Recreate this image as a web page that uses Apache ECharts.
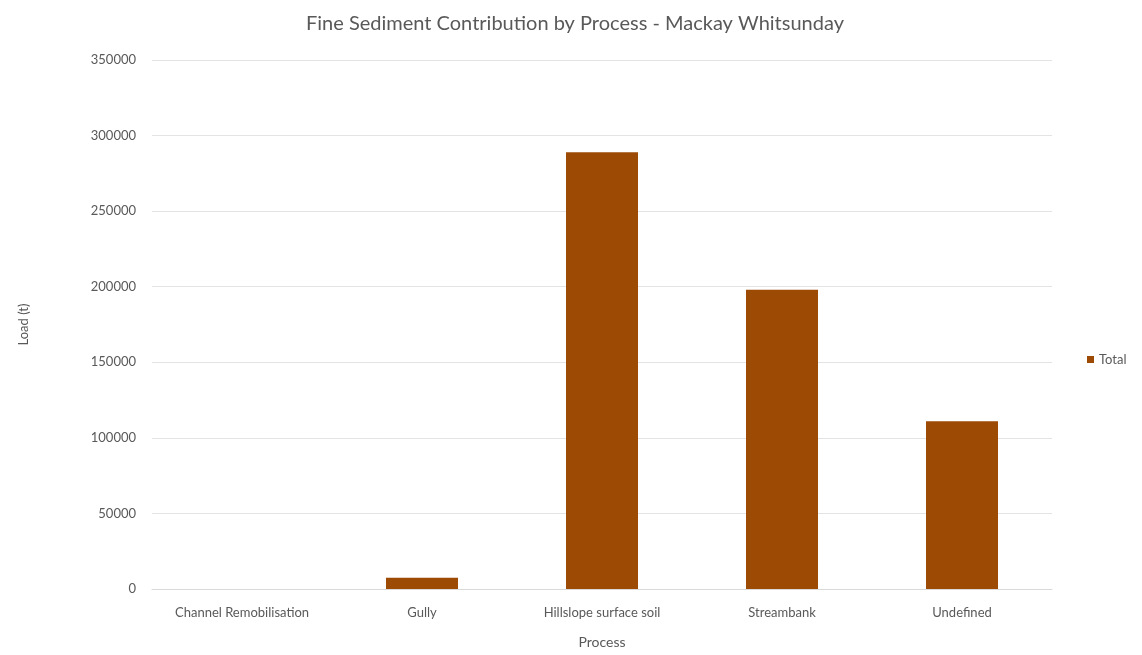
<!DOCTYPE html>
<html><head><meta charset="utf-8">
<script src="https://cdn.jsdelivr.net/npm/echarts@6/dist/echarts.min.js"></script>
<style>html,body{margin:0;padding:0;background:#fff}#c{width:1142px;height:655px}</style>
</head><body><div id="c"></div>
<script>
const categories = ["Channel Remobilisation", "Gully", "Hillslope surface soil", "Streambank", "Undefined"];
const totals = [0, 7500, 289000, 198000, 111000];
const yTicks = { min: 0, max: 350000, interval: 50000 };

const chart = echarts.init(document.getElementById('c'));
const font = 'Lato, "Open Sans", sans-serif';
chart.setOption({
  animation: false,
  backgroundColor: '#fff',
  title: {
    text: 'Fine Sediment Contribution by Process - Mackay Whitsunday',
    left: 570, top: 9, textAlign: 'center',
    textStyle: { fontFamily: font, fontSize: 20, fontWeight: 'normal', color: '#595959' }
  },
  legend: {
    data: [{ name: 'Total', icon: 'rect' }], orient: 'vertical', left: 1082, top: 348,
    itemWidth: 7, itemHeight: 7, itemGap: 4,
    textStyle: { fontFamily: font, fontSize: 13, color: '#595959' }
  },
  grid: { left: 152, right: 90, top: 60, bottom: 66 },
  xAxis: {
    type: 'category', data: categories,
    name: 'Process', nameLocation: 'middle', nameGap: 46,
    nameTextStyle: { fontFamily: font, fontSize: 14, color: '#595959' },
    axisLine: { lineStyle: { color: '#d9d9d9' } },
    axisTick: { show: false },
    axisLabel: { fontFamily: font, fontSize: 13, color: '#595959', margin: 17, interval: 0 }
  },
  yAxis: {
    type: 'value', min: yTicks.min, max: yTicks.max, interval: yTicks.interval,
    name: 'Load (t)', nameLocation: 'middle', nameGap: 122, nameRotate: 90,
    nameTextStyle: { fontFamily: font, fontSize: 13, color: '#595959' },
    axisLine: { show: false }, axisTick: { show: false },
    splitLine: { lineStyle: { color: '#e3e3e3' } },
    axisLabel: { fontFamily: font, fontSize: 13, color: '#595959', margin: 16, formatter: v => String(v) }
  },
  series: [{
    name: 'Total', type: 'bar', data: totals, barWidth: '40%',
    itemStyle: { color: '#9C4A04' }
  }]
});
</script></body></html>
